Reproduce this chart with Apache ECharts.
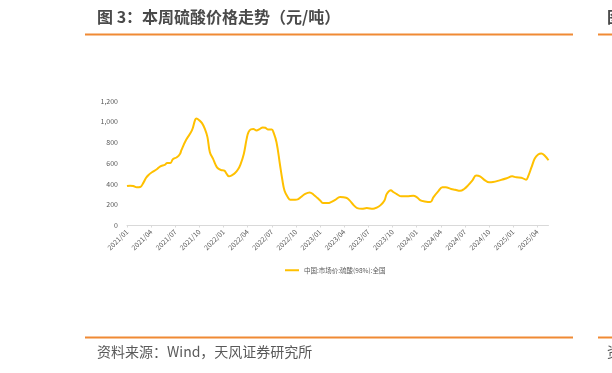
<!DOCTYPE html>
<html>
<head>
<meta charset="utf-8">
<script src="https://cdn.jsdelivr.net/npm/echarts@6/dist/echarts.min.js"></script>
<style>
html,body{margin:0;padding:0;background:#fff;}
#chart{width:612px;height:373px;}
</style>
</head>
<body>
<div id="chart"></div>
<script>
const titleText = '图 3：本周硫酸价格走势（元/吨）';
const sourceText = '资料来源：Wind，天风证券研究所';
const seriesName = '中国:市场价:硫酸(98%):全国';
const tickLabels = ['2021/01','2021/04','2021/07','2021/10','2022/01','2022/04','2022/07','2022/10','2023/01','2023/04','2023/07','2023/10','2024/01','2024/04','2024/07','2024/10','2025/01','2025/04'];
const yTicks = [0, 200, 400, 600, 800, 1000, 1200];
const dates = ['2021-01-01','2021-01-13','2021-01-25','2021-02-07','2021-02-19','2021-03-03','2021-03-12','2021-03-22','2021-04-04','2021-04-22','2021-05-04','2021-05-24','2021-06-01','2021-06-13','2021-06-22','2021-07-07','2021-07-19','2021-07-25','2021-08-12','2021-09-03','2021-09-15','2021-09-20','2021-10-01','2021-10-11','2021-10-22','2021-11-01','2021-11-10','2021-11-22','2021-12-01','2021-12-10','2021-12-22','2022-01-04','2022-01-13','2022-01-22','2022-02-04','2022-02-12','2022-02-23','2022-03-04','2022-03-17','2022-03-28','2022-04-04','2022-04-13','2022-04-22','2022-05-04','2022-05-16','2022-05-28','2022-06-07','2022-06-16','2022-07-01','2022-07-07','2022-07-19','2022-08-01','2022-08-10','2022-08-19','2022-09-01','2022-09-10','2022-09-28','2022-10-10','2022-10-22','2022-11-04','2022-11-22','2022-12-07','2022-12-22','2023-01-02','2023-01-13','2023-02-01','2023-02-09','2023-02-26','2023-03-16','2023-04-08','2023-04-21','2023-05-07','2023-05-20','2023-06-07','2023-06-25','2023-07-19','2023-08-01','2023-08-16','2023-09-01','2023-09-10','2023-09-25','2023-10-04','2023-10-19','2023-11-04','2023-11-25','2023-12-19','2024-01-01','2024-01-16','2024-02-01','2024-02-21','2024-03-04','2024-03-22','2024-04-07','2024-04-19','2024-05-10','2024-05-25','2024-06-13','2024-06-28','2024-07-13','2024-07-30','2024-08-13','2024-08-28','2024-09-16','2024-10-01','2024-10-16','2024-11-10','2024-12-07','2024-12-28','2025-01-13','2025-02-01','2025-02-18','2025-02-25','2025-03-10','2025-03-22','2025-04-04','2025-04-16','2025-04-28','2025-05-13'];
const prices = [380,384,380,368,371,416,458,487,513,542,568,587,603,603,639,658,690,729,826,916,1019,1032,1013,987,932,852,706,642,587,552,535,529,497,474,487,503,539,587,690,835,900,926,929,916,929,945,942,926,926,900,803,593,448,335,271,248,248,255,277,303,319,297,264,239,216,216,223,248,274,268,242,194,168,161,168,161,171,194,242,306,339,323,300,281,281,287,274,242,232,226,274,329,368,368,352,345,335,352,387,435,481,474,435,416,419,435,455,474,464,461,442,474,565,645,684,694,674,629];

function toMonth(s) {
  const p = s.split('-').map(Number);
  const dim = new Date(p[0], p[1], 0).getDate();
  return (p[0] - 2021) * 12 + (p[1] - 1) + (p[2] - 1) / dim;
}
function monthLabel(v) {
  const y = 2021 + Math.floor(v / 12);
  const m = Math.round(v - Math.floor(v / 12) * 12) + 1;
  return y + '/' + (m < 10 ? '0' + m : m);
}
const points = dates.map((d, i) => [toMonth(d), prices[i]]);
const tickValues = tickLabels.map((_, i) => i * 3);
const xMax = toMonth(dates[dates.length - 1]);

const FONT = '"Noto Sans CJK SC", "Noto Sans", sans-serif';
const ORANGE = '#F08A34';

const chart = echarts.init(document.getElementById('chart'), null, {renderer: 'canvas'});
chart.setOption({
  animation: false,
  backgroundColor: '#ffffff',
  textStyle: {fontFamily: FONT},
  grid: {left: 127, right: 63.5, top: 101, bottom: 147.5, containLabel: false},
  legend: {
    data: [seriesName],
    left: 280, top: 262,
    icon: 'rect', itemWidth: 14, itemHeight: 2,
    textStyle: {fontSize: 6.5, color: '#595959', fontFamily: FONT}
  },
  xAxis: {
    type: 'value', min: 0, max: xMax,
    axisLine: {show: true, lineStyle: {color: '#D9D9D9', width: 1}},
    axisTick: {show: true, length: 2, lineStyle: {color: '#D9D9D9'}, customValues: tickValues},
    splitLine: {show: false},
    axisLabel: {
      customValues: tickValues,
      rotate: 45, fontSize: 7, color: '#595959', margin: 5,
      formatter: v => tickLabels[Math.round(v / 3)] || monthLabel(v)
    }
  },
  yAxis: {
    type: 'value', min: yTicks[0], max: yTicks[yTicks.length - 1], interval: 200,
    axisLine: {show: false}, axisTick: {show: false}, splitLine: {show: false},
    axisLabel: {
      fontSize: 7, color: '#595959', margin: 9,
      formatter: v => v.toLocaleString('en-US')
    }
  },
  series: [{
    name: seriesName, type: 'line', data: points,
    showSymbol: false, smooth: 0.4,
    lineStyle: {color: '#FFC000', width: 2},
    itemStyle: {color: '#FFC000'}
  }],
  graphic: [
    {type: 'text', left: 97, top: 9, style: {text: titleText, fontSize: 16, fontWeight: 'bold', fill: '#4A4A4A', fontFamily: FONT}},
    {type: 'rect', shape: {x: 85, y: 33.5, width: 488, height: 2}, style: {fill: ORANGE}},
    {type: 'rect', shape: {x: 598, y: 33.5, width: 20, height: 2}, style: {fill: ORANGE}},
    {type: 'text', left: 607, top: 9, style: {text: '图', fontSize: 16, fontWeight: 'bold', fill: '#4A4A4A', fontFamily: FONT}},
    {type: 'rect', shape: {x: 85, y: 336.5, width: 488, height: 2}, style: {fill: ORANGE}},
    {type: 'rect', shape: {x: 598, y: 336.5, width: 20, height: 2}, style: {fill: ORANGE}},
    {type: 'text', left: 97, top: 345, style: {text: sourceText, fontSize: 14, fill: '#595959', fontFamily: FONT}},
    {type: 'text', left: 607, top: 345, style: {text: '资', fontSize: 14, fill: '#595959', fontFamily: FONT}}
  ]
});
</script>
</body>
</html>
